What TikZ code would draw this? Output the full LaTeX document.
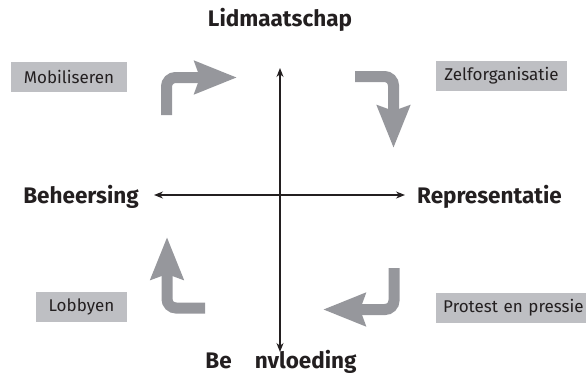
\documentclass[tikz,border=0pt]{standalone}
\usepackage{fontspec}
\setmainfont{Fira Sans}
\usepackage{tikz}
\usetikzlibrary{arrows.meta,positioning}
\definecolor{boxgray}{RGB}{190, 191, 195}
\definecolor{flowgray}{RGB}{150, 151, 156}
\definecolor{inkdark}{RGB}{35, 31, 32}

\begin{document}
\begin{tikzpicture}[
    x=1pt, y=-1pt,
    axis/.style={{Stealth[length=9pt, width=7pt]}-{Stealth[length=9pt, width=7pt]}, line width=1.3pt, inkdark},
    pole/.style={font=\fontsize{22.5}{26}\selectfont\bfseries, text=inkdark, inner sep=0pt},
    tactic/.style={fill=boxgray, text=inkdark, font=\fontsize{17}{20}\selectfont, minimum height=30pt, inner xsep=0pt, align=center},
    turn/.style={-{Stealth[length=42pt, width=32pt, inset=5pt]}, line width=11pt, flowgray, rounded corners=9pt}
]
    \useasboundingbox (0,0) rectangle (586,373);

    % Poles of the axes
    \node[pole, anchor=base] (top) at (280, 26) {Lidmaatschap};
    \node[pole, anchor=base] (bottom) at (281, 368) {Be\hspace{23pt}nvloeding};
    \node[pole, anchor=base east] (left) at (139, 203) {Beheersing};
    \node[pole, anchor=base west] (right) at (417, 203) {Representatie};

    % Axes
    \coordinate (n) at (280, 68);
    \coordinate (s) at (280, 352);
    \coordinate (w) at (154, 195);
    \coordinate (e) at (405, 195);
    \draw[axis] (s) -- (n);
    \draw[axis] (w) -- (e);

    % Tactics
    \node[tactic, minimum width=116pt] (mob) at (69, 77) {Mobiliseren};
    \node[tactic, minimum width=131pt] (zelf) at (501.5, 76) {Zelforganisatie};
    \node[tactic, minimum width=91pt] (lob) at (81.5, 307) {Lobbyen};
    \node[tactic, anchor=west, minimum width=160pt, text width=150pt, align=left, inner xsep=7pt] (prot) at (436, 308) {Protest en pressie};

    % Turning arrows
    \coordinate (tl1) at (166.5, 115);
    \coordinate (tl2) at (237, 77.5);
    \draw[turn] (tl1) |- (tl2);

    \coordinate (tr1) at (355, 76.5);
    \coordinate (tr2) at (393.5, 148);
    \draw[turn] (tr1) -| (tr2);

    \coordinate (br1) at (394, 268);
    \coordinate (br2) at (323, 309.5);
    \draw[turn] (br1) |- (br2);

    \coordinate (bl1) at (205, 308);
    \coordinate (bl2) at (167, 237);
    \draw[turn] (bl1) -| (bl2);

\end{tikzpicture}
\end{document}
